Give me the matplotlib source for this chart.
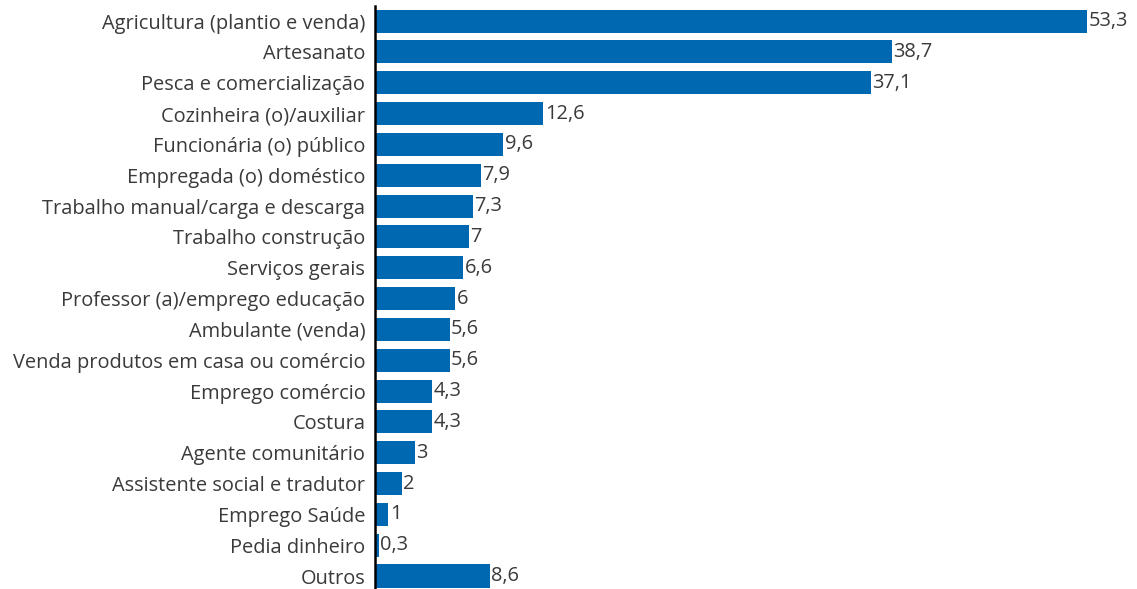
import matplotlib.pyplot as plt

categorias = [
    'Agricultura (plantio e venda)', 'Artesanato', 'Pesca e comercialização',
    'Cozinheira (o)/auxiliar', 'Funcionária (o) público', 'Empregada (o) doméstico',
    'Trabalho manual/carga e descarga', 'Trabalho construção', 'Serviços gerais',
    'Professor (a)/emprego educação', 'Ambulante (venda)',
    'Venda produtos em casa ou comércio', 'Emprego comércio', 'Costura',
    'Agente comunitário', 'Assistente social e tradutor', 'Emprego Saúde',
    'Pedia dinheiro', 'Outros',
]
valores = [53.3, 38.7, 37.1, 12.6, 9.6, 7.9, 7.3, 7, 6.6, 6, 5.6, 5.6, 4.3, 4.3,
           3, 2, 1, 0.3, 8.6]
rotulos = ['53,3', '38,7', '37,1', '12,6', '9,6', '7,9', '7,3', '7', '6,6', '6',
           '5,6', '5,6', '4,3', '4,3', '3', '2', '1', '0,3', '8,6']

plt.rcParams['font.family'] = ['Open Sans', 'DejaVu Sans']
cor_texto = '#3a3a3a'

fig = plt.figure(figsize=(11.37, 5.89), dpi=100)
ax = fig.add_axes([375 / 1137, 0.0, 1 - 375 / 1137, 1 - 6 / 589])

pos = range(len(categorias))
ax.barh(pos, valores, height=0.75, color='#0067b1')

# valores ao lado de cada barra
for p, v, r in zip(pos, valores, rotulos):
    ax.text(v + 0.1, p, r, va='center', ha='left', fontsize=14.4, color=cor_texto)

ax.set_yticks(list(pos))
ax.set_yticklabels(categorias, fontsize=14.4, color=cor_texto)
ax.tick_params(axis='y', length=0, pad=7)
ax.set_xticks([])
ax.set_xlim(0, 762 / 13.36)
ax.set_ylim(18.42, -0.49)

for lado in ['top', 'right', 'bottom']:
    ax.spines[lado].set_visible(False)
ax.spines['left'].set_color('black')
ax.spines['left'].set_linewidth(1.8)

fig.savefig('out.png', dpi=100)
